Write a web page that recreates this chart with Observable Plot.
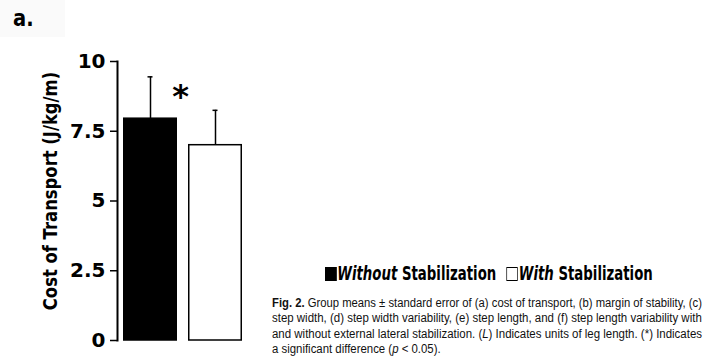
<!DOCTYPE html>
<html>
<head>
<meta charset="utf-8">
<script src="https://cdn.jsdelivr.net/npm/d3@7"></script>
<script src="https://cdn.jsdelivr.net/npm/@observablehq/plot@0.6"></script>
<style>
  html, body { margin: 0; padding: 0; background: #fff; }
  #wrap { position: relative; width: 704px; height: 358px; overflow: hidden; background: #fff; }
  #chart { position: absolute; left: 0; top: 0; }
  .bold { font-family: "DejaVu Sans", sans-serif; font-weight: bold; color: #000; }
  #panel { position: absolute; left: 13px; top: 5px; font-size: 23px; line-height: 26px; transform: scaleX(0.85); transform-origin: 0 0; }
  #shade { position: absolute; left: 0; top: 0; width: 65px; height: 37px; background: #fafafa; }
  #ylabel { position: absolute; left: 50px; top: 191px; white-space: nowrap; font-size: 20px; line-height: 22px; }
  #legend { position: absolute; left: 325px; top: 263px; font-size: 19.5px; line-height: 22px; white-space: nowrap; transform-origin: 0 0; }
  #legend .sw { display: inline-block; width: 17px; height: 14px; box-sizing: border-box; border: 1.5px solid #000; vertical-align: -1px; margin-right: 1px; }
  #legend i { font-style: italic; }
  #caption { position: absolute; left: 272px; top: 296px; width: 430px; font-family: "Liberation Sans", sans-serif; font-size: 12.5px; line-height: 15.3px; color: #111; }
  #caption .ln { display: block; white-space: nowrap; }
  #caption .ln span { display: inline-block; white-space: nowrap; transform-origin: 0 0; }
</style>
</head>
<body>
<div id="wrap">
  <div id="shade"></div>
  <div id="chart"></div>
  <div id="panel" class="bold">a.</div>
  <div id="ylabel" class="bold"></div>
  <div id="legend" class="bold"></div>
  <div id="caption"></div>
</div>
<script>
// ---- data ----
const groups = ["Without", "With"];
const means = [7.95, 7.0];
const stdErrors = [1.5, 1.25];
const barColors = ["black", "white"];
const yTicks = [0, 2.5, 5, 7.5, 10];
const yTickLabels = ["0", "2.5", "5", "7.5", "10"];
const yLabel = "Cost of Transport (J/kg/m)";
const sigGroups = ["Without"];
const sigValues = [8.75];
const sigLabels = ["*"];
const legendItalic = ["Without", "With"];
const legendRest = [" Stabilization", " Stabilization"];
const captionLines = [
  '<b>Fig. 2.</b> Group means ± standard error of (a) cost of transport, (b) margin of stability, (c)',
  'step width, (d) step width variability, (e) step length, and (f) step length variability with',
  'and without external lateral stabilization. (<i>L</i>) Indicates units of leg length. (*) Indicates',
  'a significant difference (<i>p</i> &lt; 0.05).'
];

const data = groups.map((g, i) => ({ group: g, mean: means[i], se: stdErrors[i] }));
const sig = sigGroups.map((g, i) => ({ group: g, y: sigValues[i], label: sigLabels[i] }));

const chart = Plot.plot({
  width: 704,
  height: 358,
  marginLeft: 117,
  marginRight: 455,
  marginTop: 61,
  marginBottom: 18,
  style: { fontFamily: '"DejaVu Sans", sans-serif', fontWeight: "bold", fontSize: "20px", color: "#000", background: "transparent" },
  x: { domain: groups, paddingInner: 0.1667, paddingOuter: 0.0909, axis: null },
  y: { domain: [0, 10] },
  color: { domain: groups, range: barColors },
  marks: [
    Plot.barY(data, { x: "group", y: "mean", fill: "group", stroke: "black", strokeWidth: 1.5, insetLeft: 0.75, insetRight: 0.75 }),
    Plot.ruleX(data, { x: "group", y1: "mean", y2: d => d.mean + d.se, stroke: "black", strokeWidth: 1.5 }),
    Plot.tickY(data, { x: "group", y: d => d.mean + d.se, stroke: "black", strokeWidth: 1.5, insetLeft: 24.5, insetRight: 24.5 }),
    Plot.text(sig, { x: "group", y: "y", text: "label", dx: 30, fontSize: 32, fontWeight: "bold", fill: "black" }),
    Plot.axisY({ ticks: yTicks, tickFormat: (d) => yTickLabels[yTicks.indexOf(d)], tickSize: 7, tickPadding: 5, strokeWidth: 1.5, label: null, fontSize: 20, fontWeight: "bold" }),
    Plot.frame({ anchor: "left", strokeWidth: 2 })
  ]
});
document.getElementById("chart").appendChild(chart);

// y label, rotated and centred on its anchor, condensed to the reference length
const yl = document.getElementById("ylabel");
yl.textContent = yLabel;
{
  const w = yl.offsetWidth, h = yl.offsetHeight;
  const s = 238 / w;
  yl.style.transform = `translate(${-w / 2}px, ${-h / 2}px) rotate(-90deg) scaleX(${s})`;
}

// legend, condensed to the reference width
const lg = document.getElementById("legend");
lg.innerHTML = legendItalic.map((t, i) =>
  `<span class="sw" style="background:${barColors[i]}"></span><i>${t}</i>${legendRest[i]}`
).join('<span style="display:inline-block;width:15px"></span>');
lg.style.transform = `scaleX(${328 / lg.offsetWidth})`;

// caption, each full line condensed to the column width
const cap = document.getElementById("caption");
cap.innerHTML = captionLines.map(l => `<div class="ln"><span>${l}</span></div>`).join("");
const spans = [...cap.querySelectorAll(".ln span")];
const scales = spans.map(s => 430 / s.offsetWidth);
const full = scales.slice(0, -1);
const avg = full.reduce((a, b) => a + b, 0) / full.length;
spans.forEach((s, i) => {
  s.style.transform = `scaleX(${i < spans.length - 1 ? scales[i] : avg})`;
});
</script>
</body>
</html>
